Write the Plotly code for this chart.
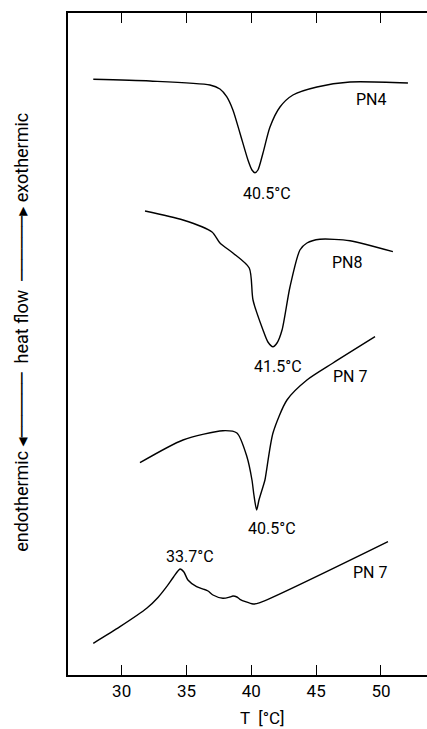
import plotly.graph_objects as go

# ---- data (T in °C, heat flow in arbitrary units) ----
pn4_T = [27.81, 32.18, 36.81, 37.58, 38.10, 38.58, 39.12, 39.74, 40.05, 40.28, 40.51, 40.90, 41.44, 42.21, 43.21, 45.06, 47.61, 52.08]
pn4_y = [59.57, 59.4, 59.0, 58.6, 57.83, 56.5, 54.2, 51.5, 50.5, 50.23, 50.5, 52.2, 54.8, 56.8, 58.0, 58.8, 59.3, 59.2]

pn8_T = [31.80, 34.73, 36.97, 37.58, 38.58, 39.84, 40.13, 40.90, 41.28, 41.67, 41.98, 42.37, 42.98, 43.75, 44.29, 45.29, 47.61, 50.92]
pn8_y = [46.4, 45.5, 44.3, 43.2, 42.2, 40.7, 37.5, 34.5, 33.3, 32.83, 33.2, 34.5, 38.8, 42.5, 43.2, 43.57, 43.43, 42.33]

pn7a_T = [31.41, 34.73, 37.81, 38.89, 39.66, 40.05, 40.20, 40.41, 40.59, 40.90, 41.05, 41.67, 42.75, 44.29, 46.30, 49.54]
pn7a_y = [21.23, 23.5, 24.43, 24.2, 21.83, 19.5, 18.0, 16.5, 17.5, 18.83, 19.5, 24.2, 27.5, 29.5, 31.2, 33.83]

pn7b_T = [27.81, 29.87, 31.93, 32.80, 33.47, 34.00, 34.50, 34.80, 35.11, 35.78, 36.35, 36.66, 37.04, 37.81, 38.35, 38.58, 38.89, 39.12, 40.13, 40.67, 50.54]
pn7b_y = [3.17, 4.83, 6.67, 7.75, 8.83, 9.8, 10.6, 10.3, 9.5, 8.83, 8.57, 8.4, 8.0, 7.67, 7.8, 7.9, 7.8, 7.57, 7.1, 7.23, 13.33]

label_text = ["40.5°C", "PN4", "41.5°C", "PN8", "PN 7", "40.5°C", "33.7°C", "PN 7"]
label_T = [41.2, 49.3, 42.06, 47.38, 47.6, 41.6, 35.27, 49.15]
label_y = [48.2, 57.6, 30.83, 41.23, 29.83, 14.7, 11.83, 10.23]

x_ticks = [30, 35, 40, 45, 50]

FONT = "Roboto, 'DejaVu Sans', sans-serif"

fig = go.Figure()
for T, y in [(pn4_T, pn4_y), (pn8_T, pn8_y), (pn7a_T, pn7a_y), (pn7b_T, pn7b_y)]:
    fig.add_trace(go.Scatter(x=T, y=y, mode="lines",
                             line=dict(color="black", width=1.4, shape="spline", smoothing=0.7),
                             showlegend=False, hoverinfo="skip"))

for t, x, y in zip(label_text, label_T, label_y):
    fig.add_annotation(x=x, y=y, text=t, showarrow=False,
                       font=dict(family=FONT, size=16, color="black"))

dash = "<span style='font-family:DejaVu Sans'>" + "─" * 6 + "</span>"
fig.add_annotation(xref="paper", yref="paper", x=-0.128, y=0.517,
                   xanchor="center", yanchor="middle",
                   text="endothermic ◂" + dash + "  heat flow  " + dash + "▸ exothermic",
                   textangle=-90, showarrow=False,
                   font=dict(family=FONT, size=18, color="black"))
fig.add_annotation(xref="paper", yref="paper", x=0.543, y=-0.065,
                   text="T  [°C]", showarrow=False, yanchor="middle",
                   font=dict(family=FONT, size=17, color="black"))

fig.update_layout(
    width=427, height=729,
    margin=dict(l=68, r=0, t=13, b=54),
    paper_bgcolor="white", plot_bgcolor="white",
    xaxis=dict(range=[25.86, 53.55], tickvals=x_ticks, ticks="inside", ticklen=10,
               tickcolor="black", tickwidth=1.2, showline=True, linecolor="black",
               linewidth=1.5, mirror="ticks", showgrid=False, zeroline=False,
               tickfont=dict(family=FONT, size=17, color="black")),
    yaxis=dict(range=[0, 66.2], showticklabels=False, ticks="", showline=True,
               linecolor="black", linewidth=1.5, showgrid=False, zeroline=False),
)

fig.write_html("out.html")
